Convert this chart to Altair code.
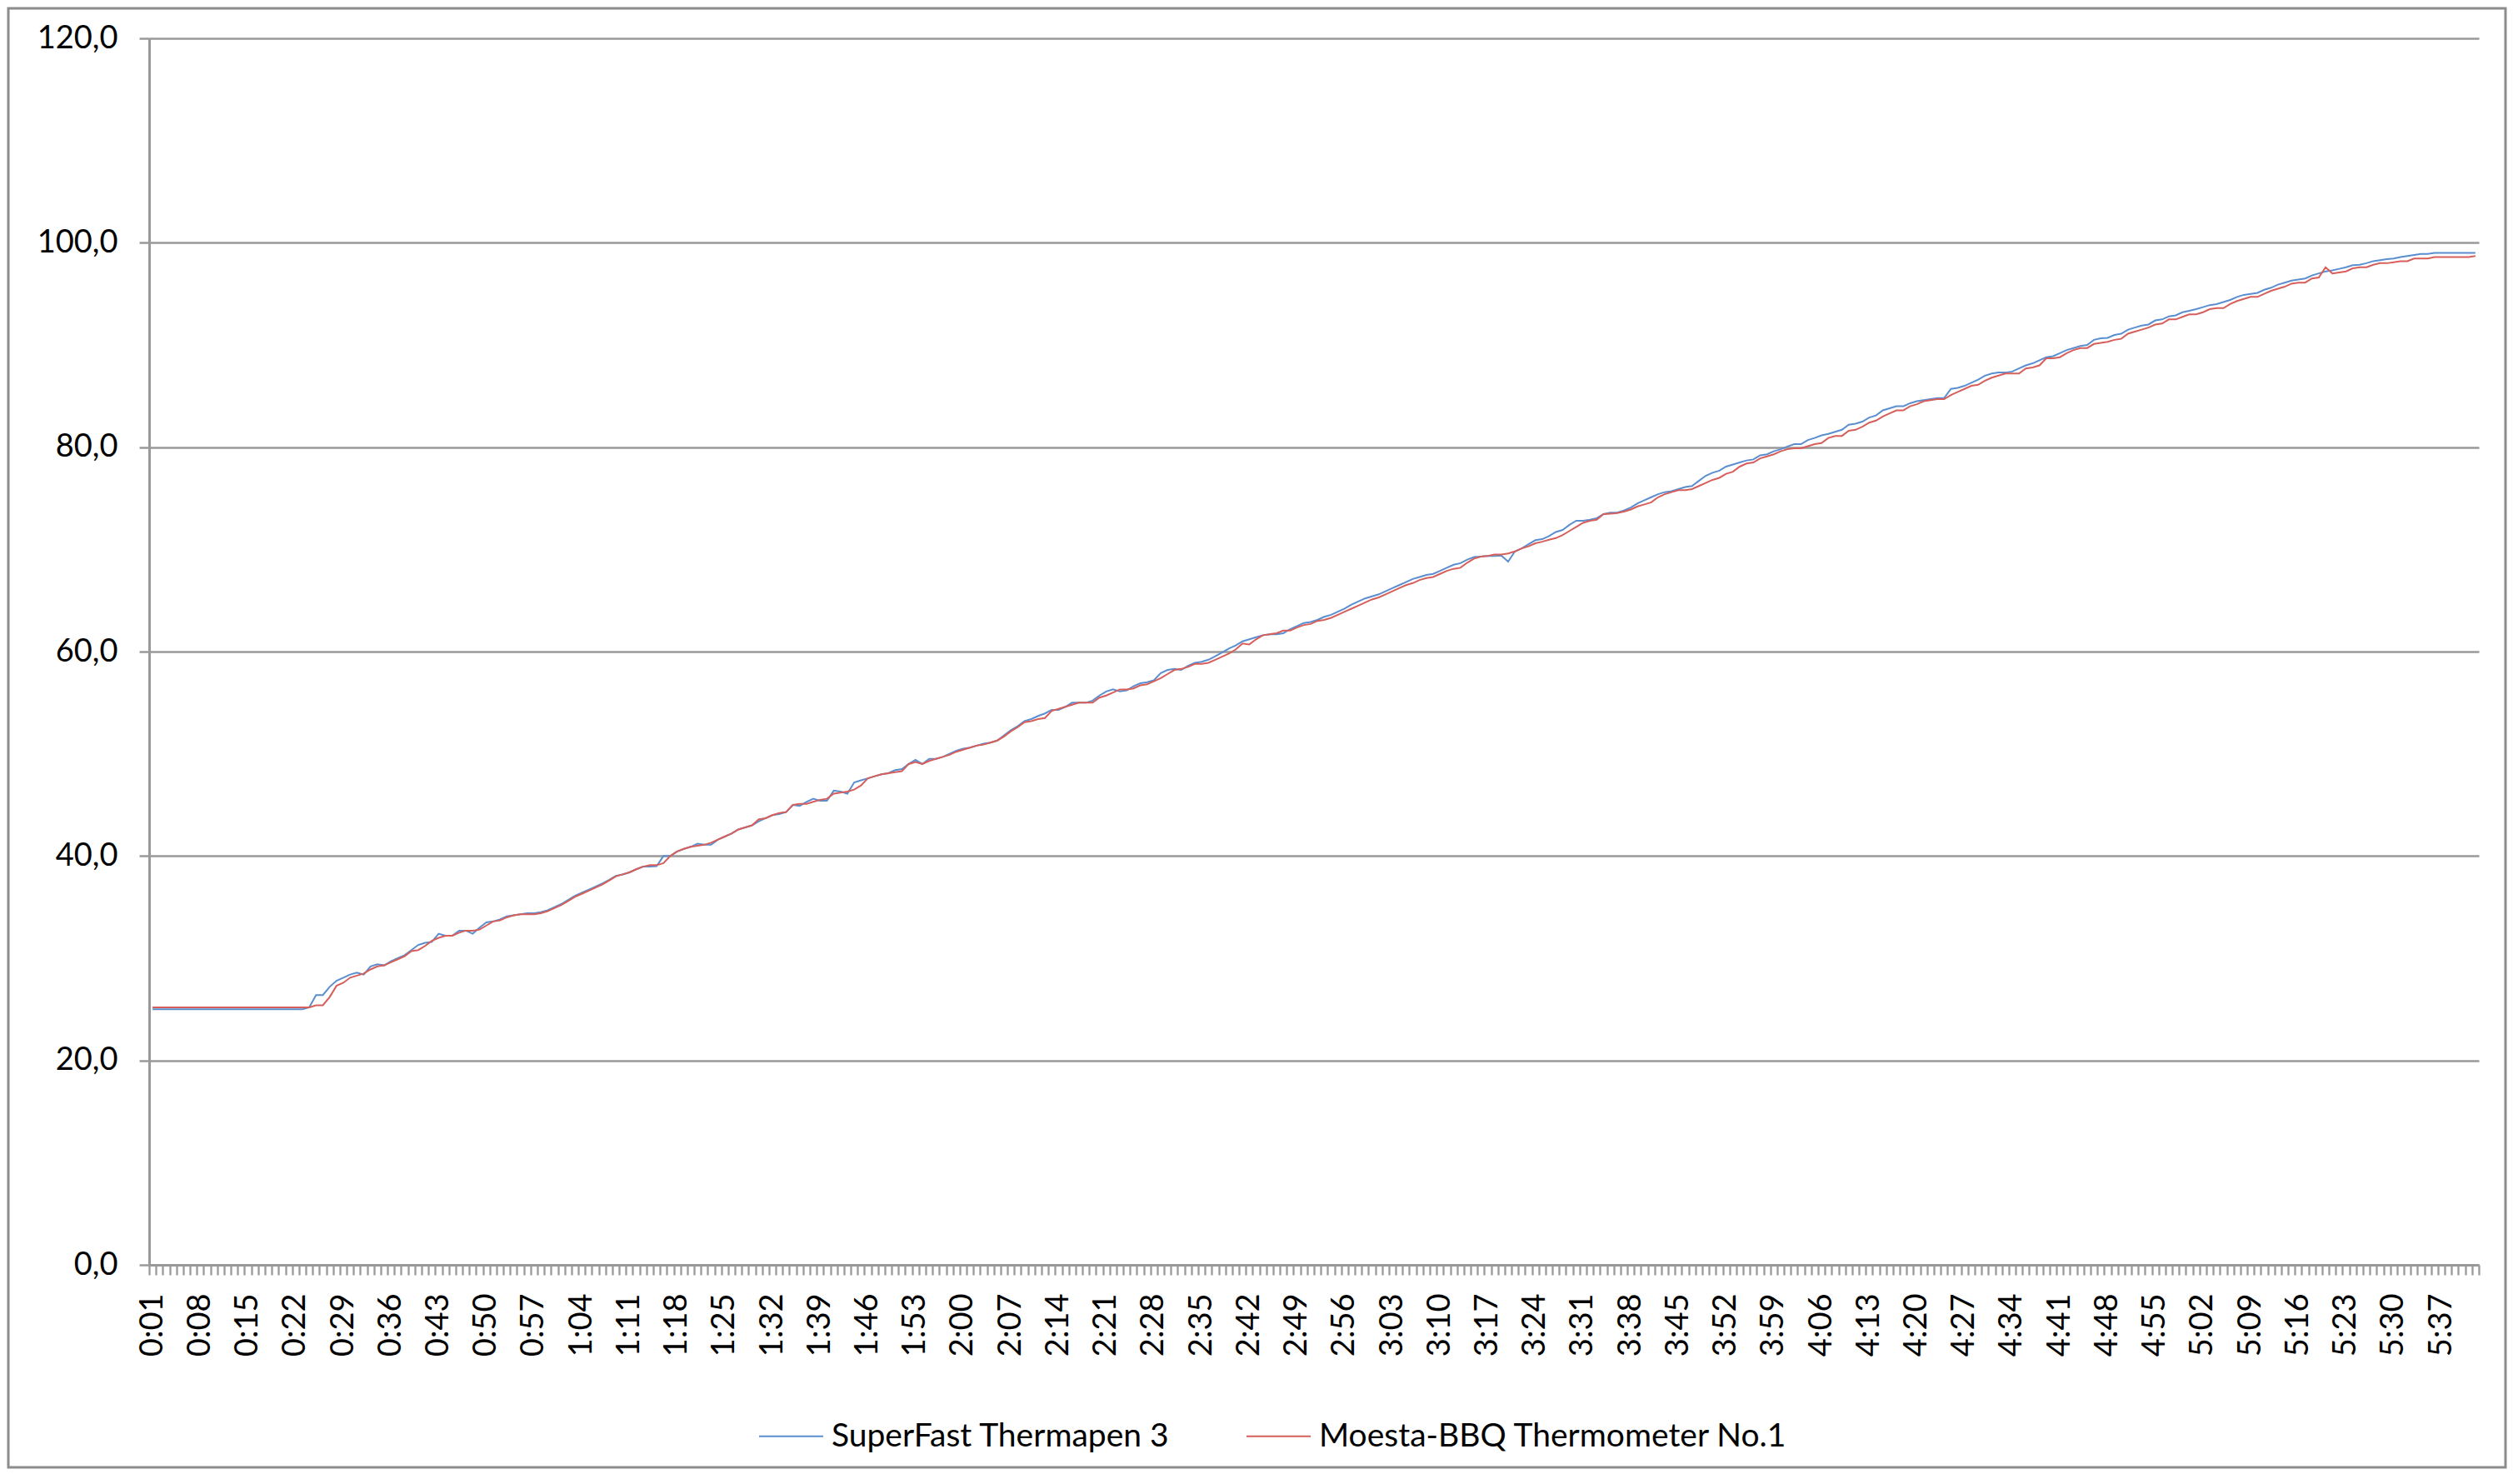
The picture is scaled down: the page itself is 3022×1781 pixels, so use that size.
import altair as alt
import pandas as pd

SECONDS = list(range(1, 343))
TIMES = [f"{s // 60}:{s % 60:02d}" for s in SECONDS]
SERIES = ["SuperFast Thermapen 3", "Moesta-BBQ Thermometer No.1"]
COLORS = ["#5A8ED0", "#D65F5B"]
Y_TICKS = [0, 20, 40, 60, 80, 100, 120]
LABEL_STEP = 7

THERMAPEN = [
    25.0, 25.0, 25.0, 25.0, 25.0, 25.0, 25.0, 25.0, 25.0, 25.0,
    25.0, 25.0, 25.0, 25.0, 25.0, 25.0, 25.0, 25.0, 25.0, 25.0,
    25.0, 25.0, 25.0, 25.2, 26.4, 26.4, 27.2, 27.8, 28.1, 28.4,
    28.6, 28.4, 29.2, 29.4, 29.3, 29.7, 30.0, 30.3, 30.8, 31.3,
    31.5, 31.6, 32.4, 32.2, 32.2, 32.7, 32.7, 32.4, 33.0, 33.5,
    33.6, 33.8, 34.1, 34.2, 34.3, 34.4, 34.4, 34.5, 34.7, 35.0,
    35.3, 35.7, 36.1, 36.4, 36.7, 37.0, 37.3, 37.65, 38.06, 38.2,
    38.4, 38.7, 38.96, 38.96, 39.0, 40.0, 40.0, 40.45, 40.7, 40.9,
    41.2, 41.1, 41.1, 41.6, 41.9, 42.2, 42.6, 42.8, 43.0, 43.4,
    43.7, 44.0, 44.1, 44.3, 45.0, 44.9, 45.3, 45.6, 45.4, 45.4,
    46.4, 46.3, 46.1, 47.2, 47.4, 47.6, 47.8, 48.0, 48.1, 48.4,
    48.5, 49.0, 49.4, 49.0, 49.5, 49.5, 49.7, 50.0, 50.3, 50.5,
    50.6, 50.8, 51.0, 51.1, 51.3, 51.8, 52.3, 52.7, 53.2, 53.4,
    53.7, 53.95, 54.3, 54.3, 54.6, 55.0, 55.0, 55.0, 55.2, 55.7,
    56.1, 56.3, 56.1, 56.2, 56.6, 56.9, 57.0, 57.2, 57.9, 58.2,
    58.3, 58.2, 58.6, 58.9, 59.0, 59.2, 59.55, 59.9, 60.3, 60.6,
    61.0, 61.2, 61.4, 61.6, 61.7, 61.7, 61.8, 62.2, 62.5, 62.8,
    62.9, 63.1, 63.4, 63.6, 63.9, 64.2, 64.6, 64.9, 65.2, 65.4,
    65.6, 65.9, 66.2, 66.5, 66.8, 67.1, 67.3, 67.5, 67.6, 67.9,
    68.2, 68.5, 68.65, 69.0, 69.25, 69.3, 69.35, 69.35, 69.4, 68.8,
    69.8, 70.1, 70.5, 70.9, 71.0, 71.3, 71.7, 71.9, 72.4, 72.8,
    72.8, 72.9, 73.05, 73.45, 73.6, 73.6, 73.8, 74.1, 74.5, 74.8,
    75.1, 75.4, 75.6, 75.7, 75.9, 76.1, 76.2, 76.7, 77.2, 77.5,
    77.7, 78.1, 78.3, 78.5, 78.7, 78.8, 79.2, 79.3, 79.6, 79.8,
    80.06, 80.3, 80.3, 80.7, 80.9, 81.15, 81.3, 81.5, 81.7, 82.2,
    82.3, 82.5, 82.9, 83.1, 83.6, 83.8, 84.0, 84.0, 84.3, 84.5,
    84.6, 84.7, 84.8, 84.8, 85.7, 85.8, 86.0, 86.3, 86.6, 87.0,
    87.2, 87.3, 87.3, 87.4, 87.7, 88.0, 88.2, 88.5, 88.8, 88.9,
    89.2, 89.5, 89.7, 89.9, 90.0, 90.5, 90.65, 90.7, 90.98, 91.1,
    91.5, 91.7, 91.9, 92.0, 92.4, 92.5, 92.8, 92.9, 93.2, 93.35,
    93.5, 93.7, 93.9, 94.0, 94.2, 94.4, 94.7, 94.9, 95.0, 95.1,
    95.4, 95.6, 95.9, 96.1, 96.3, 96.4, 96.5, 96.8, 97.0, 97.2,
    97.3, 97.45, 97.6, 97.8, 97.85, 98.0, 98.2, 98.3, 98.4, 98.45,
    98.6, 98.7, 98.8, 98.9, 98.9, 99.0, 99.0, 99.0, 99.0, 99.0,
    99.0, 99.0,
]

MOESTA = [
    25.2, 25.2, 25.2, 25.2, 25.2, 25.2, 25.2, 25.2, 25.2, 25.2,
    25.2, 25.2, 25.2, 25.2, 25.2, 25.2, 25.2, 25.2, 25.2, 25.2,
    25.2, 25.2, 25.2, 25.2, 25.4, 25.4, 26.2, 27.3, 27.6, 28.1,
    28.3, 28.5, 28.9, 29.2, 29.3, 29.6, 29.9, 30.2, 30.7, 30.8,
    31.2, 31.7, 32.0, 32.2, 32.2, 32.5, 32.7, 32.7, 32.8, 33.2,
    33.6, 33.7, 34.0, 34.2, 34.3, 34.3, 34.3, 34.4, 34.6, 34.9,
    35.2, 35.6, 36.0, 36.3, 36.6, 36.9, 37.2, 37.6, 38.0, 38.2,
    38.4, 38.7, 38.96, 39.1, 39.1, 39.3, 40.0, 40.45, 40.7, 40.9,
    41.0, 41.1, 41.3, 41.6, 41.9, 42.2, 42.6, 42.8, 43.0, 43.6,
    43.7, 44.0, 44.2, 44.3, 45.0, 45.1, 45.1, 45.3, 45.5, 45.6,
    46.1, 46.2, 46.3, 46.5, 46.9, 47.6, 47.8, 48.0, 48.1, 48.2,
    48.3, 49.0, 49.2, 49.0, 49.3, 49.5, 49.7, 49.9, 50.2, 50.4,
    50.6, 50.8, 50.9, 51.1, 51.3, 51.7, 52.2, 52.6, 53.1, 53.2,
    53.4, 53.5, 54.2, 54.4, 54.6, 54.8, 55.0, 55.0, 55.0, 55.5,
    55.7, 56.0, 56.3, 56.3, 56.4, 56.7, 56.8, 57.1, 57.4, 57.8,
    58.2, 58.3, 58.5, 58.8, 58.8, 58.9, 59.2, 59.5, 59.8, 60.2,
    60.8, 60.7, 61.2, 61.6, 61.7, 61.8, 62.05, 62.05, 62.35, 62.6,
    62.7, 63.0, 63.1, 63.3, 63.6, 63.9, 64.2, 64.5, 64.8, 65.1,
    65.3, 65.6, 65.9, 66.2, 66.5, 66.7, 67.0, 67.2, 67.3, 67.6,
    67.9, 68.1, 68.2, 68.7, 69.1, 69.3, 69.35, 69.5, 69.5, 69.6,
    69.8, 70.1, 70.3, 70.6, 70.75, 70.95, 71.1, 71.4, 71.8, 72.2,
    72.6, 72.8, 72.9, 73.45, 73.5, 73.55, 73.7, 73.9, 74.2, 74.4,
    74.6, 75.1, 75.4, 75.6, 75.8, 75.8, 75.9, 76.2, 76.5, 76.8,
    77.0, 77.4, 77.6, 78.1, 78.4, 78.5, 78.9, 79.1, 79.3, 79.6,
    79.8, 79.9, 79.9, 80.1, 80.3, 80.4, 80.9, 81.1, 81.1, 81.6,
    81.7, 82.0, 82.4, 82.6, 83.0, 83.3, 83.6, 83.6, 84.0, 84.2,
    84.5, 84.6, 84.7, 84.7, 85.1, 85.4, 85.7, 86.0, 86.1, 86.5,
    86.8, 87.0, 87.2, 87.2, 87.2, 87.7, 87.8, 88.0, 88.7, 88.7,
    88.8, 89.2, 89.5, 89.7, 89.7, 90.1, 90.2, 90.3, 90.5, 90.6,
    91.1, 91.3, 91.5, 91.7, 92.0, 92.1, 92.5, 92.5, 92.75, 93.0,
    93.0, 93.2, 93.5, 93.6, 93.6, 94.0, 94.3, 94.5, 94.7, 94.7,
    95.0, 95.3, 95.5, 95.7, 96.0, 96.1, 96.1, 96.5, 96.6, 97.6,
    97.0, 97.1, 97.2, 97.5, 97.6, 97.6, 97.85, 98.0, 98.0, 98.1,
    98.2, 98.2, 98.45, 98.45, 98.45, 98.6, 98.6, 98.6, 98.6, 98.6,
    98.6, 98.7,
]

assert len(THERMAPEN) == len(SECONDS) == len(MOESTA)

rows = []
for s, t, a, b in zip(SECONDS, TIMES, THERMAPEN, MOESTA):
    rows.append({"sec": s, "time": t, "series": SERIES[0], "temp": a})
    rows.append({"sec": s, "time": t, "series": SERIES[1], "temp": b})
df = pd.DataFrame(rows)

N = len(SECONDS)
W, H = 2796, 1472
half = W / N / 2.0
FONT = "Lato"
GRAY = "#999999"

# tick labels shown on every 7th category, ticks at every category boundary
tick_labels = [t if i % LABEL_STEP == 0 else "" for i, t in enumerate(TIMES)] + [""]
label_expr = "[" + ",".join("'" + l + "'" for l in tick_labels) + "][round(datum.value - 0.5)]"
tick_values = [s - 0.5 for s in SECONDS] + [SECONDS[-1] + 0.5]

lines = alt.Chart(df).mark_line(strokeWidth=2).encode(
    x=alt.X(
        "sec:Q",
        scale=alt.Scale(domain=[0.5, N + 0.5], nice=False, zero=False),
        axis=alt.Axis(
            title=None,
            values=tick_values,
            labelExpr=label_expr,
            labelAngle=270,
            labelOffset=half,
            labelPadding=22,
            labelFont=FONT,
            labelFontSize=38,
            labelColor="#000000",
            labelOverlap=False,
            labelBound=False,
            labelFlush=False,
            grid=False,
            domainColor=GRAY,
            domainWidth=3,
            tickColor=GRAY,
            tickWidth=2.3,
            tickSize=12,
        ),
    ),
    y=alt.Y(
        "temp:Q",
        scale=alt.Scale(domain=[0, 120], nice=False),
        axis=alt.Axis(
            title=None,
            values=Y_TICKS,
            labelExpr="replace(format(datum.value, '.1f'), '.', ',')",
            labelFont=FONT,
            labelFontSize=38,
            labelColor="#000000",
            labelPadding=26,
            grid=True,
            gridColor=GRAY,
            gridWidth=2.5,
            domainColor=GRAY,
            domainWidth=3,
            tickColor=GRAY,
            tickWidth=2.5,
            tickSize=12,
        ),
    ),
    color=alt.Color(
        "series:N",
        scale=alt.Scale(domain=SERIES, range=COLORS),
        sort=SERIES,
        legend=alt.Legend(
            title=None,
            orient="none",
            legendX=731,
            legendY=1638,
            direction="horizontal",
            symbolType="stroke",
            symbolSize=5929,
            symbolStrokeWidth=2,
            labelFont=FONT,
            labelFontSize=39,
            labelColor="#000000",
            labelLimit=2000,
            labelOffset=9,
            columnPadding=88,
        ),
    ),
    order=alt.Order("sec:Q"),
)

border = alt.Chart(pd.DataFrame({"k": [0]})).mark_rect(
    fill="transparent", stroke="#8c8c8c", strokeWidth=3
).encode(
    x=alt.value(-169),
    x2=alt.value(W + 32),
    y=alt.value(-36),
    y2=alt.value(H + 243),
)

chart = alt.layer(border, lines).properties(
    width=W,
    height=H,
    autosize=alt.AutoSizeParams(type="none"),
    padding={"left": 171, "top": 38, "right": 35, "bottom": 245},
    background="white",
).configure_view(strokeWidth=0)

chart.save("out.html", embed_options={"renderer": "svg", "actions": False})
